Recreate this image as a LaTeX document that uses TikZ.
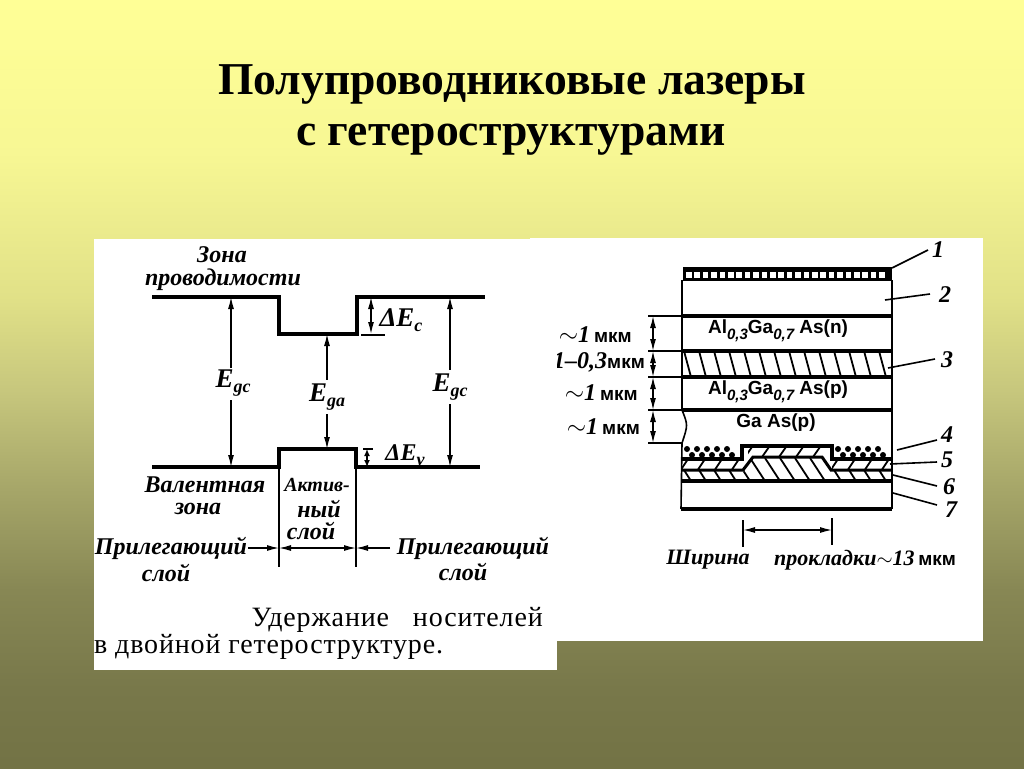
\documentclass[tikz,border=0pt]{standalone}
\usepackage{fontspec}
\setmainfont{Liberation Serif}
\newfontfamily\dsans{Liberation Sans}
\newfontfamily\dcapt[LetterSpace=3]{Liberation Serif}
\usetikzlibrary{arrows.meta}
\pgfdeclareverticalshading{slidebg}{100bp}{rgb(0bp)=(.45,.45,.27);rgb(25bp)=(.45,.45,.27);rgb(30.1bp)=(.47,.47,.29);rgb(36.6bp)=(.53,.53,.33);rgb(43.1bp)=(.65,.65,.41);rgb(49.6bp)=(.78,.78,.49);rgb(55.5bp)=(.88,.88,.53);rgb(65.2bp)=(.97,.97,.58);rgb(75bp)=(1,1,.59);rgb(100bp)=(1,1,.59)}
\tikzset{l/.style={font=\fontsize{24}{24}\selectfont\itshape\bfseries,inner sep=0pt}}
\tikzset{m/.style={font=\dsans\fontsize{19}{19}\selectfont\bfseries,inner sep=0pt}}
\tikzset{band/.style={line width=3.2pt}}
\tikzset{thin line/.style={line width=1.6pt}}
\tikzset{dim/.style={line width=1.3pt,{Latex[length=12pt,width=6pt]}-{Latex[length=12pt,width=6pt]}}}
\tikzset{ahead/.style={line width=1.3pt,-{Latex[length=12pt,width=6pt]}}}
\tikzset{abefore/.style={line width=1.3pt,{Latex[length=12pt,width=6pt]}-}}
\tikzset{hatch/.style={line width=1.8pt}}
\newcommand{\low}[1]{\raisebox{-5pt}{\fontsize{18}{18}\selectfont #1}}
\newcommand{\lowm}[1]{\raisebox{-6pt}{\fontsize{15}{15}\selectfont\itshape #1}}
\newcommand{\mkm}{\fontsize{19}{19}\selectfont\dsans\upshape мкм}
\begin{document}
\begin{tikzpicture}[x=1pt,y=-1pt]
  \useasboundingbox (0,0) rectangle (1024,768);
  \shade[shading=slidebg] (0,0) rectangle (1024,768);
  \node (T1) at (512,84) {\fontsize{45.6}{45.6}\selectfont\bfseries Полупроводниковые лазеры};
  \node (T2) at (511,140) {\fontsize{45.6}{45.6}\selectfont\bfseries с гетероструктурами};
  \fill[white] (530,238) rectangle (983,641);
  \fill[black] (683,267) rectangle (892,281);
  \foreach \x in {686,694.4,...,884} \fill[white] (\x,272) rectangle +(5.6,6);
  \foreach \y in {316,351,377,410} \draw[band] (682,\y) -- (892,\y);
  \draw[thin line] (682,280) -- (682,410) .. controls (688,425) .. (682,443) -- (681,509);
  \draw[thin line] (892,280) -- (892,509);
  \foreach \x in {684,699,...,880} \draw[hatch] (\x,351) -- +(7,26);
  \coordinate (D1) at (653,316);
  \coordinate (D2) at (653,351);
  \coordinate (D3) at (653,377);
  \coordinate (D4) at (653,410);
  \coordinate (D5) at (653,443);
  \draw[dim] (D1) -- (D2);
  \draw[dim] (D2) -- (D3);
  \draw[dim] (D3) -- (D4);
  \draw[dim] (D4) -- (D5);
  \foreach \y in {316,351,377,410,443} \draw[thin line] (648,\y) -- (682,\y);
  \node[l,anchor=east] (W1) at (632,335) {$\sim$1\,\mkm};
  \node[l,anchor=east] (W2) at (645,362) {1--0,3\mkm};
  \node[l,anchor=east] (W3) at (638,393) {$\sim$1\,\mkm};
  \node[l,anchor=east] (W4) at (640,427) {$\sim$1\,\mkm};
  \node[m] (Ln) at (778,331) {Al\lowm{0,3}Ga\lowm{0,7} As(n)};
  \node[m] (Lp) at (778,392) {Al\lowm{0,3}Ga\lowm{0,7} As(p)};
  \node[m] (Lg) at (776,423) {Ga As(p)};
  \foreach \x in {687,697,...,735} \fill (\x,449) circle (3);
  \foreach \x in {692,702,...,732} \fill (\x,455) circle (3);
  \foreach \x in {838,848,...,887} \fill (\x,449) circle (3);
  \foreach \x in {843,853,...,883} \fill (\x,455) circle (3);
  \begin{scope}
    \clip (682,460) -- (742,460) -- (742,470) -- (682,470) -- cycle;
    \foreach \x in {680,697,...,750} \draw[hatch] (\x,471) -- +(8,-12);
  \end{scope}
  \begin{scope}
    \clip (832,460) -- (892,460) -- (892,470) -- (832,470) -- cycle;
    \foreach \x in {830,847,...,890} \draw[hatch] (\x,471) -- +(8,-12);
  \end{scope}
  \begin{scope}
    \clip (748,448) -- (826,448) -- (829,456) -- (748,456) -- cycle;
    \foreach \x in {745,762,...,825} \draw[hatch] (\x,457) -- +(7,-10);
  \end{scope}
  \begin{scope}
    \clip (682,470) -- (892,470) -- (892,481) -- (682,481) -- cycle;
    \foreach \x in {684,699,...,890} \draw[hatch] (\x,470) -- +(7,11);
  \end{scope}
  \begin{scope}
    \clip (745,470) -- (753,457) -- (822,457) -- (831,470) -- (836,481) -- (735,481) -- cycle;
    \fill[white] (745,470) -- (753,457) -- (822,457) -- (831,470) -- (836,481) -- (735,481) -- cycle;
    \foreach \x in {735,750,...,835} \draw[hatch] (\x,458) -- +(15,23);
  \end{scope}
  \draw[line width=3.4pt] (681,459) -- (742,459) -- (742,446) -- (832,446) -- (832,459) -- (892,459);
  \draw[line width=3pt] (681,470) -- (743,470) -- (753,457) -- (822,457) -- (831,470) -- (892,470);
  \draw[line width=3.4pt] (681,481) -- (892,481);
  \draw[line width=3.4pt] (681,509) -- (892,509);
  \coordinate (P1) at (892,268);
  \coordinate (Q1) at (928,250);
  \coordinate (P2) at (885,300);
  \coordinate (Q2) at (930,294);
  \coordinate (P3) at (888,368);
  \coordinate (Q3) at (935,359);
  \coordinate (P4) at (897,450);
  \coordinate (Q4) at (937,440);
  \coordinate (P5) at (890,464);
  \coordinate (Q5) at (937,462);
  \coordinate (P6) at (893,475);
  \coordinate (Q6) at (937,486);
  \coordinate (P7) at (893,493);
  \coordinate (Q7) at (937,505);
  \foreach \i in {1,...,7} \draw[thin line] (P\i) -- (Q\i);
  \node[l] (N1) at (938,250) {1};
  \node[l] (N2) at (945,295) {2};
  \node[l] (N3) at (947,360) {3};
  \node[l] (N4) at (947,435) {4};
  \node[l] (N5) at (947,460) {5};
  \node[l] (N6) at (949,487) {6};
  \node[l] (N7) at (951,510) {7};
  \coordinate (S1) at (743,520);
  \coordinate (S2) at (743,547);
  \coordinate (S3) at (832,518);
  \coordinate (S4) at (832,545);
  \coordinate (S5) at (743,530);
  \coordinate (S6) at (832,530);
  \draw[thin line] (S1) -- (S2);
  \draw[thin line] (S3) -- (S4);
  \draw[dim] (S5) -- (S6);
  \node[l,font=\fontsize{22}{22}\selectfont\itshape\bfseries] (W5) at (708,560) {Ширина};
  \node[l,font=\fontsize{22}{22}\selectfont\itshape\bfseries] (W6) at (865,560) {прокладки$\sim$13\,\mkm};
  \fill[white] (94,239) rectangle (557,670);
  \coordinate (A1) at (152,297);
  \coordinate (A2) at (279,297);
  \coordinate (A3) at (279,334);
  \coordinate (A4) at (357,334);
  \coordinate (A5) at (357,297);
  \coordinate (A6) at (485,297);
  \coordinate (B1) at (152,467);
  \coordinate (B2) at (279,467);
  \coordinate (B3) at (279,449);
  \coordinate (B4) at (356,449);
  \coordinate (B5) at (356,467);
  \coordinate (B6) at (480,467);
  \draw[band] (A1) -- (A2) -- (A3) -- (A4) -- (A5) -- (A6);
  \draw[band] (B1) -- (B2) -- (B3) -- (B4) -- (B5) -- (B6);
  \coordinate (C1) at (279,567);
  \coordinate (C2) at (356,567);
  \draw[thin line] (B3) -- (C1);
  \draw[thin line] (B4) -- (C2);
  \node[l] (Eg1) at (233,383) {\fontsize{27}{27}\selectfont E\low{gc}};
  \node[l] (Eg2) at (327,397) {\fontsize{27}{27}\selectfont E\low{ga}};
  \node[l] (Eg3) at (450,387) {\fontsize{27}{27}\selectfont E\low{gc}};
  \coordinate (G1) at (231,297);
  \coordinate (G2) at (231,467);
  \coordinate (G3) at (327,334);
  \coordinate (G4) at (327,449);
  \coordinate (G5) at (450,297);
  \coordinate (G6) at (450,467);
  \draw[abefore] (G1) -- (231,368);
  \draw[ahead] (231,400) -- (G2);
  \draw[abefore] (G3) -- (327,380);
  \draw[ahead] (327,414) -- (G4);
  \draw[abefore] (G5) -- (450,370);
  \draw[ahead] (450,404) -- (G6);
  \coordinate (H1) at (371,297);
  \coordinate (H2) at (371,334);
  \coordinate (H3) at (361,335);
  \coordinate (H4) at (385,335);
  \coordinate (H5) at (367,449);
  \coordinate (H6) at (367,467);
  \coordinate (H7) at (363,449);
  \coordinate (H8) at (373,449);
  \draw[dim] (H1) -- (H2);
  \draw[thin line] (H3) -- (H4);
  \draw[line width=1.3pt,{Latex[length=7pt,width=6pt]}-{Latex[length=7pt,width=6pt]}] (H5) -- (H6);
  \draw[thin line] (H7) -- (H8);
  \node[l] (dEc) at (401,320) {\fontsize{27}{27}\selectfont ΔE\low{c}};
  \node[l] (dEv) at (405,455) {\fontsize{24}{24}\selectfont ΔE\low{v}};
  \node[l] (Z1) at (222,255) {Зона};
  \node[l] (Z2) at (223,280) {проводимости};
  \node[l] (Z3) at (205,485) {Валентная};
  \node[l] (Z4) at (198,509) {зона};
  \node[l,font=\fontsize{20}{20}\selectfont\itshape\bfseries] (Z5) at (317,485) {Актив-};
  \node[l] (Z6) at (319,509) {ный};
  \node[l] (Z7) at (311,531) {слой};
  \node[l] (Z8) at (171,548) {Прилегающий};
  \node[l] (Z9) at (166,573) {слой};
  \node[l] (Z10) at (473,548) {Прилегающий};
  \node[l] (Z11) at (463,572) {слой};
  \coordinate (K1) at (279,548);
  \coordinate (K2) at (356,548);
  \coordinate (K3) at (248,548);
  \coordinate (K4) at (390,548);
  \draw[ahead] (K3) -- (K1);
  \draw[dim] (K1) -- (K2);
  \draw[ahead] (K4) -- (K2);
  \node[anchor=east,inner sep=0pt] (C3) at (543,620) {\dcapt\fontsize{28}{28}\selectfont Удержание\hspace{16pt} носителей};
  \node[anchor=west,inner sep=0pt] (C4) at (94,647) {\dcapt\fontsize{28}{28}\selectfont в двойной гетероструктуре.};
\end{tikzpicture}
\end{document}
